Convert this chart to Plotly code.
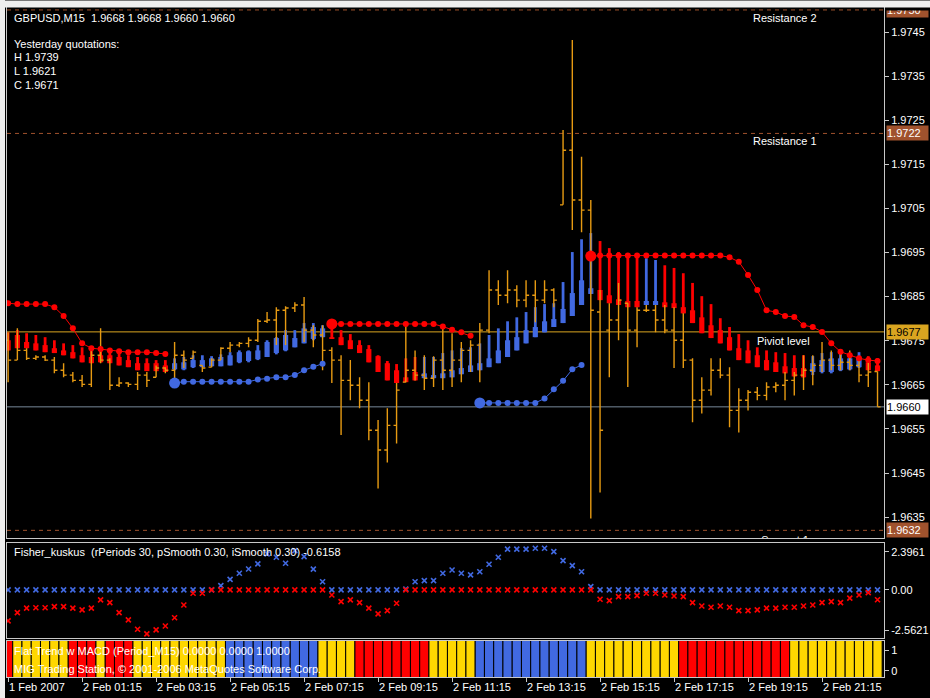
import plotly.graph_objects as go
from plotly.subplots import make_subplots

# ---------------- data ----------------
bar_index = list(range(95))
time_ticks = [0, 8, 16, 24, 32, 40, 48, 56, 64, 72, 80, 88]
time_labels = ["1 Feb 2007", "2 Feb 01:15", "2 Feb 03:15", "2 Feb 05:15", "2 Feb 07:15",
               "2 Feb 09:15", "2 Feb 11:15", "2 Feb 13:15", "2 Feb 15:15", "2 Feb 17:15",
               "2 Feb 19:15", "2 Feb 21:15"]

bar_open = [1.96751, 1.96706, 1.96728, 1.96710, 1.96713, 1.96706, 1.96683, 1.96672, 1.96660, 1.96651,
            1.96717, 1.96706, 1.96649, 1.96654, 1.96651, 1.96672, 1.96667, 1.96688, 1.96683, 1.96717,
            1.96710, 1.96694, 1.96690, 1.96706, 1.96733, 1.96740, 1.96744, 1.96751, 1.96794, 1.96797,
            1.96819, 1.96824, 1.96831, 1.96774, 1.96763, 1.96728, 1.96706, 1.96660, 1.96649, 1.96615,
            1.96547, 1.96502, 1.96558, 1.96656, 1.96683, 1.96672, 1.96665, 1.96706, 1.96683, 1.96706,
            1.96728, 1.96740, 1.96774, 1.96865, 1.96853, 1.96865, 1.96842, 1.96853, 1.96842, 1.96865,
            1.97058, 1.97182, 1.97069, 1.97046, 1.96815, 1.96774, 1.96797, 1.96835, 1.96774, 1.96819,
            1.96819, 1.96797, 1.96774, 1.96751, 1.96706, 1.96615, 1.96638, 1.96683, 1.96672, 1.96592,
            1.96615, 1.96633, 1.96626, 1.96645, 1.96649, 1.96660, 1.96672, 1.96683, 1.96694, 1.96706,
            1.96694, 1.96701, 1.96694, 1.96672, 1.96680]
bar_high = [1.96769, 1.96778, 1.96733, 1.96717, 1.96717, 1.96713, 1.96699, 1.96679, 1.96672, 1.96735,
            1.96778, 1.96710, 1.96667, 1.96656, 1.96679, 1.96679, 1.96694, 1.96690, 1.96747, 1.96728,
            1.96728, 1.96694, 1.96710, 1.96735, 1.96747, 1.96747, 1.96758, 1.96799, 1.96815, 1.96826,
            1.96828, 1.96837, 1.96849, 1.96785, 1.96785, 1.96735, 1.96717, 1.96706, 1.96667, 1.96656,
            1.96570, 1.96597, 1.96654, 1.96785, 1.96728, 1.96717, 1.96715, 1.96778, 1.96767, 1.96747,
            1.96751, 1.96790, 1.96910, 1.96887, 1.96910, 1.96876, 1.96887, 1.96887, 1.96887, 1.96869,
            1.97228, 1.97432, 1.97167, 1.97069, 1.96865, 1.96835, 1.96881, 1.96835, 1.96826, 1.96831,
            1.96831, 1.96831, 1.96826, 1.96812, 1.96710, 1.96667, 1.96710, 1.96710, 1.96690, 1.96642,
            1.96638, 1.96645, 1.96656, 1.96656, 1.96679, 1.96679, 1.96717, 1.96717, 1.96747, 1.96728,
            1.96724, 1.96728, 1.96710, 1.96701, 1.96680]
bar_low = [1.96656, 1.96706, 1.96706, 1.96706, 1.96704, 1.96676, 1.96667, 1.96656, 1.96645, 1.96645,
           1.96699, 1.96638, 1.96645, 1.96645, 1.96638, 1.96645, 1.96667, 1.96676, 1.96656, 1.96688,
           1.96710, 1.96679, 1.96690, 1.96706, 1.96724, 1.96735, 1.96735, 1.96747, 1.96790, 1.96740,
           1.96740, 1.96815, 1.96747, 1.96735, 1.96683, 1.96654, 1.96536, 1.96615, 1.96597, 1.96524,
           1.96415, 1.96474, 1.96517, 1.96656, 1.96660, 1.96638, 1.96645, 1.96638, 1.96645, 1.96656,
           1.96679, 1.96656, 1.96767, 1.96831, 1.96835, 1.96826, 1.96826, 1.96792, 1.96835, 1.96826,
           1.97058, 1.97001, 1.96996, 1.96347, 1.96406, 1.96667, 1.96751, 1.96645, 1.96735, 1.96815,
           1.96769, 1.96767, 1.96688, 1.96688, 1.96565, 1.96585, 1.96626, 1.96665, 1.96554, 1.96542,
           1.96592, 1.96615, 1.96615, 1.96633, 1.96615, 1.96626, 1.96638, 1.96649, 1.96679, 1.96683,
           1.96683, 1.96683, 1.96656, 1.96645, 1.96600]
bar_close = [1.96706, 1.96728, 1.96710, 1.96713, 1.96706, 1.96683, 1.96672, 1.96660, 1.96651, 1.96717,
             1.96706, 1.96649, 1.96654, 1.96651, 1.96672, 1.96660, 1.96688, 1.96683, 1.96717, 1.96706,
             1.96724, 1.96688, 1.96706, 1.96733, 1.96740, 1.96744, 1.96751, 1.96794, 1.96797, 1.96819,
             1.96824, 1.96831, 1.96774, 1.96763, 1.96728, 1.96706, 1.96660, 1.96649, 1.96615, 1.96547,
             1.96502, 1.96558, 1.96638, 1.96683, 1.96672, 1.96665, 1.96706, 1.96683, 1.96706, 1.96728,
             1.96740, 1.96774, 1.96865, 1.96853, 1.96865, 1.96842, 1.96853, 1.96842, 1.96865, 1.96842,
             1.97182, 1.97069, 1.97046, 1.96819, 1.96547, 1.96797, 1.96842, 1.96774, 1.96819, 1.96819,
             1.96797, 1.96774, 1.96751, 1.96706, 1.96615, 1.96638, 1.96683, 1.96672, 1.96592, 1.96615,
             1.96633, 1.96626, 1.96645, 1.96649, 1.96660, 1.96672, 1.96683, 1.96694, 1.96706, 1.96694,
             1.96701, 1.96694, 1.96672, 1.96679, 1.96600]

ha_open = [1.96751, 1.96763, 1.96747, 1.96744, 1.96740, 1.96733, 1.96728, 1.96724, 1.96717, 1.96713,
           1.96717, 1.96717, 1.96713, 1.96706, 1.96699, 1.96699, 1.96699, 1.96694, 1.96685, 1.96685,
           1.96690, 1.96690, 1.96692, 1.96692, 1.96694, 1.96701, 1.96704, 1.96708, 1.96713, 1.96722,
           1.96728, 1.96735, 1.96744, 1.96754, 1.96758, 1.96758, 1.96758, 1.96751, 1.96740, 1.96731,
           1.96715, 1.96699, 1.96683, 1.96667, 1.96679, 1.96665, 1.96665, 1.96665, 1.96667, 1.96674,
           1.96679, 1.96683, 1.96690, 1.96699, 1.96713, 1.96728, 1.96744, 1.96758, 1.96769, 1.96781,
           1.96790, 1.96806, 1.96831, 1.96856, 1.96865, 1.96853, 1.96844, 1.96840, 1.96840, 1.96831,
           1.96831, 1.96837, 1.96835, 1.96826, 1.96819, 1.96803, 1.96785, 1.96774, 1.96758, 1.96733,
           1.96728, 1.96717, 1.96706, 1.96701, 1.96692, 1.96688, 1.96688, 1.96679, 1.96679, 1.96679,
           1.96683, 1.96685, 1.96690, 1.96701, 1.96694]
ha_high = [1.96769, 1.96774, 1.96767, 1.96763, 1.96758, 1.96751, 1.96744, 1.96740, 1.96735, 1.96735,
           1.96733, 1.96728, 1.96722, 1.96717, 1.96713, 1.96710, 1.96706, 1.96706, 1.96710, 1.96713,
           1.96717, 1.96717, 1.96715, 1.96719, 1.96724, 1.96728, 1.96728, 1.96740, 1.96751, 1.96758,
           1.96774, 1.96774, 1.96790, 1.96790, 1.96785, 1.96778, 1.96774, 1.96765, 1.96751, 1.96740,
           1.96717, 1.96704, 1.96697, 1.96710, 1.96713, 1.96713, 1.96713, 1.96722, 1.96728, 1.96733,
           1.96735, 1.96744, 1.96763, 1.96778, 1.96794, 1.96803, 1.96815, 1.96826, 1.96833, 1.96835,
           1.96883, 1.96951, 1.96980, 1.96994, 1.96976, 1.96960, 1.96951, 1.96946, 1.96942, 1.96937,
           1.96933, 1.96921, 1.96915, 1.96903, 1.96881, 1.96851, 1.96833, 1.96801, 1.96781, 1.96765,
           1.96751, 1.96735, 1.96728, 1.96724, 1.96722, 1.96717, 1.96717, 1.96715, 1.96722, 1.96724,
           1.96722, 1.96722, 1.96724, 1.96715, 1.96710]
ha_low = [1.96728, 1.96733, 1.96733, 1.96728, 1.96724, 1.96722, 1.96717, 1.96710, 1.96701, 1.96699,
          1.96701, 1.96699, 1.96694, 1.96690, 1.96683, 1.96681, 1.96681, 1.96679, 1.96683, 1.96683,
          1.96688, 1.96690, 1.96692, 1.96692, 1.96694, 1.96699, 1.96701, 1.96706, 1.96713, 1.96719,
          1.96726, 1.96735, 1.96744, 1.96751, 1.96758, 1.96754, 1.96740, 1.96731, 1.96722, 1.96701,
          1.96679, 1.96660, 1.96654, 1.96656, 1.96660, 1.96665, 1.96665, 1.96665, 1.96667, 1.96674,
          1.96679, 1.96683, 1.96690, 1.96699, 1.96713, 1.96728, 1.96744, 1.96758, 1.96769, 1.96781,
          1.96790, 1.96806, 1.96831, 1.96856, 1.96842, 1.96835, 1.96831, 1.96826, 1.96826, 1.96831,
          1.96831, 1.96826, 1.96824, 1.96812, 1.96790, 1.96767, 1.96756, 1.96744, 1.96728, 1.96706,
          1.96699, 1.96690, 1.96683, 1.96679, 1.96676, 1.96669, 1.96667, 1.96672, 1.96676, 1.96676,
          1.96681, 1.96683, 1.96688, 1.96683, 1.96681]
ha_close = [1.96728, 1.96733, 1.96733, 1.96728, 1.96724, 1.96722, 1.96717, 1.96710, 1.96701, 1.96699,
            1.96701, 1.96699, 1.96694, 1.96690, 1.96683, 1.96681, 1.96681, 1.96679, 1.96699, 1.96701,
            1.96706, 1.96706, 1.96710, 1.96713, 1.96717, 1.96724, 1.96726, 1.96728, 1.96747, 1.96756,
            1.96763, 1.96756, 1.96778, 1.96781, 1.96778, 1.96754, 1.96740, 1.96731, 1.96722, 1.96701,
            1.96679, 1.96660, 1.96654, 1.96656, 1.96660, 1.96676, 1.96672, 1.96676, 1.96683, 1.96688,
            1.96694, 1.96699, 1.96710, 1.96728, 1.96751, 1.96758, 1.96774, 1.96781, 1.96794, 1.96799,
            1.96822, 1.96858, 1.96887, 1.96869, 1.96842, 1.96835, 1.96831, 1.96826, 1.96826, 1.96840,
            1.96840, 1.96826, 1.96824, 1.96812, 1.96790, 1.96767, 1.96756, 1.96744, 1.96728, 1.96706,
            1.96699, 1.96690, 1.96683, 1.96679, 1.96676, 1.96669, 1.96667, 1.96699, 1.96706, 1.96710,
            1.96710, 1.96710, 1.96710, 1.96683, 1.96681]

N = None
stop_red = [1.96835, 1.96833, 1.96833, 1.96833, 1.96833, 1.96826, 1.96806, 1.96778, 1.96744, 1.96733,
            1.96731, 1.96728, 1.96726, 1.96724, 1.96724, 1.96724, 1.96722, 1.96720, N, N,
            N, N, N, N, N, N, N, N, N, N,
            N, N, N, N, N, 1.96788, 1.96788, 1.96788, 1.96788, 1.96788,
            1.96788, 1.96788, 1.96788, 1.96788, 1.96788, 1.96788, 1.96788, 1.96782, 1.96775, 1.96769,
            1.96761, N, N, N, N, N, N, N, N, N,
            N, N, N, 1.96942, 1.96943, 1.96943, 1.96943, 1.96943, 1.96943, 1.96943,
            1.96943, 1.96943, 1.96943, 1.96943, 1.96943, 1.96943, 1.96943, 1.96943, 1.96939, 1.96929,
            1.96899, 1.96865, 1.96819, 1.96815, 1.96806, 1.96804, 1.96785, 1.96781, 1.96770, 1.96744,
            1.96725, 1.96717, 1.96710, 1.96706, 1.96704]
stop_blue = [N, N, N, N, N, N, N, N, N, N,
             N, N, N, N, N, N, N, N, 1.96654, 1.96657,
             1.96657, 1.96657, 1.96657, 1.96657, 1.96657, 1.96657, 1.96657, 1.96662, 1.96664, 1.96667,
             1.96667, 1.96672, 1.96683, 1.96691, 1.96698, N, N, N, N, N,
             N, N, N, N, N, N, N, N, N, N,
             N, 1.96609, 1.96609, 1.96609, 1.96609, 1.96609, 1.96609, 1.96609, 1.96619, 1.96640,
             1.96659, 1.96685, 1.96695, N, N, N, N, N, N, N,
             N, N, N, N, N, N, N, N, N, N,
             N, N, N, N, N, N, N, N, N, N,
             N, N, N, N, N]
buy_signal_bars = [18, 51]
sell_signal_bars = [35, 63]

fisher = [-1.95, -1.43, -1.15, -1.12, -1.12, -1.05, -1.05, -1.15, -1.26, -1.15,
          -0.63, -0.80, -1.43, -1.89, -2.48, -2.77, -2.52, -2.27, -1.75, -0.95,
          -0.21, -0.21, 0.0, 0.27, 0.67, 1.05, 1.32, 1.64, 2.27, 2.06,
          1.68, 2.48, 2.10, 1.31, 0.52, -0.32, -0.74, -0.63, -0.80, -1.15,
          -1.51, -1.30, -0.84, 0.05, 0.52, 0.59, 0.59, 1.05, 1.26, 1.05,
          0.95, 1.15, 1.62, 2.06, 2.57, 2.57, 2.57, 2.63, 2.63, 2.42,
          1.85, 1.53, 1.15, 0.21, -0.59, -0.67, -0.42, -0.42, -0.36, -0.21,
          -0.21, -0.32, -0.38, -0.42, -0.80, -1.01, -1.09, -1.01, -1.09, -1.30,
          -1.30, -1.26, -1.15, -1.15, -1.09, -1.09, -1.01, -0.95, -0.80, -0.74,
          -0.80, -0.52, -0.32, -0.17, -0.6158]

# flat trend state: 1 = up (blue), 0 = flat (yellow), -1 = down (red)
trend_state = [-1, 0, 0, 0, 0, 0, 0, -1, -1, -1,
               0, -1, -1, -1, 0, 0, 0, 0, 0, 0,
               0, 0, 0, 0, 1, 1, 1, 1, 1, 1,
               1, 1, 1, 1, 0, 0, 0, 0, -1, -1,
               -1, -1, -1, -1, -1, -1, 0, 0, 0, 0,
               0, 1, 1, 1, 1, 1, 1, 1, 1, 1,
               1, 1, 1, 0, 0, 0, 0, 0, 0, 0,
               0, 0, 0, -1, -1, -1, -1, -1, -1, -1,
               -1, -1, -1, -1, -1, 0, 0, 0, 0, 0,
               0, 0, 0, 0, 0]

price_ticks = [1.9745, 1.9735, 1.9725, 1.9715, 1.9705, 1.9695, 1.9685,
               1.9675, 1.9665, 1.9655, 1.9645, 1.9635]
resistance2, resistance1, pivot, support1, last_price = 1.9750, 1.9722, 1.9677, 1.9632, 1.9660
fisher_ticks = [2.3961, 0.0, -2.5621]
fisher_ticktext = ["2.3961", "0.00", "-2.5621"]

# ---------------- styling ----------------
ORANGE = "#E69A12"
RED = "#FF0000"
BLUE = "#4169E1"
GOLD = "#FFD700"
PIVOT = "#DAA520"
SIENNA = "#A0522D"
GRAYLINE = "#778899"
FRAME = "#C8C8C8"
FONT = "Liberation Sans"
W, H = 930, 698
ML, MR, MT, MB = 7, 46, 7, 21
PW, PH = W - ML - MR, H - MT - MB


def px_y(pix):
    return (H - MB - pix) / PH


def px_x(pix):
    return (pix - ML) / PW


fig = make_subplots(rows=3, cols=1, shared_xaxes=True, vertical_spacing=0)

fig.add_trace(go.Ohlc(x=bar_index, open=bar_open, high=bar_high, low=bar_low, close=bar_close,
                      increasing=dict(line=dict(color=ORANGE, width=1.4)),
                      decreasing=dict(line=dict(color=ORANGE, width=1.4)),
                      tickwidth=0.33, hoverinfo="skip"), row=1, col=1)

ha_colors = [BLUE if c > o else RED for o, c in zip(ha_open, ha_close)]
fig.add_trace(go.Bar(x=bar_index, y=[h - l for h, l in zip(ha_high, ha_low)], base=ha_low,
                     width=0.3, marker=dict(color=ha_colors, line=dict(width=0))), row=1, col=1)
fig.add_trace(go.Bar(x=bar_index, y=[max(abs(c - o), 0.00002) for o, c in zip(ha_open, ha_close)],
                     base=[min(o, c) for o, c in zip(ha_open, ha_close)],
                     width=0.56, marker=dict(color=ha_colors, line=dict(width=0))), row=1, col=1)

fig.add_trace(go.Scatter(x=bar_index, y=stop_red, mode="lines+markers", connectgaps=False,
                         line=dict(color=RED, width=1), marker=dict(color=RED, size=6)), row=1, col=1)
fig.add_trace(go.Scatter(x=bar_index, y=stop_blue, mode="lines+markers", connectgaps=False,
                         line=dict(color=BLUE, width=1), marker=dict(color=BLUE, size=6)), row=1, col=1)
fig.add_trace(go.Scatter(x=buy_signal_bars, y=[stop_blue[i] for i in buy_signal_bars], mode="markers",
                         marker=dict(color=BLUE, size=11)), row=1, col=1)
fig.add_trace(go.Scatter(x=sell_signal_bars, y=[stop_red[i] for i in sell_signal_bars], mode="markers",
                         marker=dict(color=RED, size=11)), row=1, col=1)

# Support 1 text, clipped by the panel edge
fig.add_trace(go.Scatter(x=[84.0], y=[1.96296], mode="text", text=["Support 1"],
                         textfont=dict(color="white", size=11, family=FONT), cliponaxis=True,
                         textposition="middle center"), row=1, col=1)

# Fisher panel
fisher_pos = [v if v > 0 else 0.0 for v in fisher]
fisher_neg = [v if v < 0 else 0.0 for v in fisher]
fig.add_trace(go.Scatter(x=bar_index, y=fisher_pos, mode="markers",
                         marker=dict(symbol="x-thin", size=5, line=dict(color=BLUE, width=1.6))), row=2, col=1)
fig.add_trace(go.Scatter(x=bar_index, y=fisher_neg, mode="markers",
                         marker=dict(symbol="x-thin", size=5, line=dict(color=RED, width=1.6))), row=2, col=1)

# Flat trend panel
state_color = {1: BLUE, 0: GOLD, -1: RED}
fig.add_trace(go.Bar(x=bar_index, y=[2.0] * len(bar_index), base=-0.4, width=1.0,
                     marker=dict(color=[state_color[s] for s in trend_state],
                                 line=dict(color="black", width=1))), row=3, col=1)

# horizontal levels
for lvl, col, dash in [(resistance2, SIENNA, "dash"), (resistance1, SIENNA, "dash"),
                       (support1, SIENNA, "dash"), (pivot, PIVOT, "solid"),
                       (last_price, GRAYLINE, "solid")]:
    fig.add_shape(type="line", xref="x domain", yref="y", x0=0, x1=1, y0=lvl, y1=lvl,
                  line=dict(color=col, width=1, dash=dash if dash == "solid" else "4px,4px"),
                  layer="below")

ann = []
def txt(x, y, s, size=11, color="white", xanchor="left"):
    ann.append(dict(xref="paper", yref="paper", x=px_x(x), y=px_y(y), text=s, showarrow=False,
                    xanchor=xanchor, yanchor="middle", font=dict(color=color, size=size, family=FONT)))

txt(12, 18, "GBPUSD,M15  1.9668 1.9668 1.9660 1.9660")
txt(12, 44, "Yesterday quotations:")
txt(12, 57, "H 1.9739")
txt(12, 71, "L 1.9621")
txt(12, 85, "C 1.9671")
txt(751, 18, "Resistance 2")
txt(751, 141, "Resistance 1")
txt(755, 341, "Piviot level")
txt(12, 552, "Fisher_kuskus  (rPeriods 30, pSmooth 0.30, iSmooth 0.30) -0.6158")
txt(12, 651, "Flat Trend w MACD (Period_M15) 0.0000 0.0000 1.0000")
txt(12, 669, "MIG Trading Station, © 2001-2006 MetaQuotes Software Corp.")

for lvl, bg, fc in [(resistance2, SIENNA, "white"), (resistance1, SIENNA, "white"),
                    (pivot, PIVOT, "black"), (last_price, "white", "black"), (support1, SIENNA, "white")]:
    ann.append(dict(xref="paper", yref="y", x=px_x(886), y=lvl, text=f"{lvl:.4f}", showarrow=False,
                    xanchor="left", yanchor="middle", bgcolor=bg, borderpad=0, width=41, height=14,
                    align="left", font=dict(color=fc, size=11, family=FONT)))

# window frame: black gap under the strip over the price scale (clips the top label box)
ann.append(dict(xref="paper", yref="paper", x=px_x(885), y=px_y(0), text=" ", showarrow=False,
                xanchor="left", yanchor="top", width=W - 885, height=9, bgcolor="black", borderpad=0,
                font=dict(size=4)))
ann.append(dict(xref="paper", yref="paper", x=px_x(0), y=px_y(0), text=" ", showarrow=False,
                xanchor="left", yanchor="top", width=W, height=6, bgcolor="#EEEEEE", borderpad=0,
                font=dict(size=4)))
fig.add_shape(type="rect", xref="paper", yref="paper", x0=px_x(0), x1=px_x(5), y0=px_y(H), y1=px_y(0),
              fillcolor="#EEEEEE", line=dict(width=0), layer="above")

axis_common = dict(showgrid=False, zeroline=False, showline=True, mirror=True,
                   linecolor=FRAME, linewidth=1, automargin=False)
fig.update_layout(
    width=W, height=H, margin=dict(l=ML, r=MR, t=MT, b=MB, autoexpand=False),
    paper_bgcolor="black", plot_bgcolor="black", showlegend=False, barmode="overlay",
    annotations=ann, font=dict(family=FONT, size=11, color="white"),
    xaxis=dict(range=[-0.12, 94.7], rangeslider=dict(visible=False), showticklabels=False,
               ticks="", **axis_common),
    xaxis2=dict(range=[-0.12, 94.7], showticklabels=False, ticks="", **axis_common),
    xaxis3=dict(range=[-0.12, 94.7], tickvals=time_ticks, ticktext=time_labels, ticks="outside",
                ticklen=4, tickcolor=FRAME, ticklabelposition="outside right",
                tickfont=dict(color="white", size=11, family=FONT), **axis_common),
    yaxis=dict(domain=[px_y(538), px_y(7)], range=[1.963026, 1.975067], side="right",
               tickvals=price_ticks, ticktext=[f"{t:.4f}" for t in price_ticks],
               ticks="outside", ticklen=4, tickcolor=FRAME,
               tickfont=dict(color="white", size=11, family=FONT), **axis_common),
    yaxis2=dict(domain=[px_y(638), px_y(543)], range=[-3.03, 2.96], side="right",
                tickvals=fisher_ticks, ticktext=fisher_ticktext, ticks="outside", ticklen=4,
                tickcolor=FRAME, tickfont=dict(color="white", size=11, family=FONT), **axis_common),
    yaxis3=dict(domain=[px_y(677), px_y(641)], range=[-0.29, 1.43], side="right",
                tickvals=[1, 0], ticktext=["1", "0"], ticks="outside", ticklen=4, tickcolor=FRAME,
                tickfont=dict(color="white", size=11, family=FONT), **axis_common),
)

fig.write_html("out.html", config={"displayModeBar": False, "staticPlot": True},
               post_script="document.body.style.margin='0px';document.body.style.overflow='hidden';")
